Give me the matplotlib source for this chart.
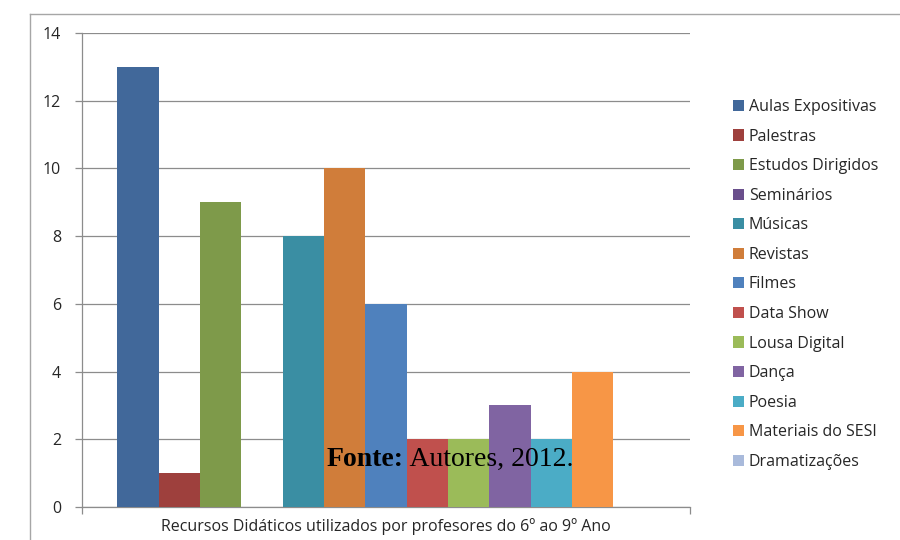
import matplotlib
matplotlib.use("Agg")
import matplotlib.pyplot as plt
from matplotlib.lines import Line2D
from matplotlib.patches import Patch

# Teaching resources used by teachers (6th to 9th grade)
categories = ["Aulas Expositivas", "Palestras", "Estudos Dirigidos", "Seminários",
              "Músicas", "Revistas", "Filmes", "Data Show", "Lousa Digital",
              "Dança", "Poesia", "Materiais do SESI", "Dramatizações"]
values = [13, 1, 9, 0, 8, 10, 6, 2, 2, 3, 2, 4, 0]
colors = ["#41689A", "#9E403D", "#7E9A4A", "#6A4F8C", "#3A8EA3", "#D07D3A",
          "#4F81BD", "#C0504D", "#9BBB59", "#8064A2", "#4BACC6", "#F79646",
          "#A9BADB"]
yticks = [0, 2, 4, 6, 8, 10, 12, 14]
xlabel = "Recursos Didáticos utilizados por profesores do 6º ao 9º Ano"
source_bold = "Fonte:"
source_rest = " Autores, 2012."

plt.rcParams["font.family"] = ["Open Sans", "DejaVu Sans"]
fs = 11.5
text_c = "#262626"

fig = plt.figure(figsize=(9, 5.4), dpi=100)
ax = fig.add_axes([82 / 900, 1 - 507 / 540, (690 - 82) / 900, (507 - 33) / 540])

grid_c = "#8c8c8c"
for i, (v, c) in enumerate(zip(values, colors)):
    ax.bar(i, v, width=1.0, color=c, edgecolor="none", zorder=3)

ax.set_xlim(-1.35, 13.35)
ax.set_ylim(0, 14)
ax.set_yticks(yticks)
ax.set_yticklabels([str(t) for t in yticks], fontsize=fs, color=text_c)
ax.yaxis.grid(True, color=grid_c, linewidth=0.9, zorder=0)
ax.set_xticks([-1.35, 13.35])
ax.set_xticklabels(["", ""])
ax.tick_params(axis="both", direction="out", length=5, color=grid_c, width=0.9)
ax.tick_params(axis="y", pad=10)
ax.tick_params(axis="x", pad=0)
for side in ["top", "right"]:
    ax.spines[side].set_visible(False)
for side in ["left", "bottom"]:
    ax.spines[side].set_color(grid_c)
    ax.spines[side].set_linewidth(0.9)

ax.set_xlabel(xlabel, fontsize=fs, color=text_c, labelpad=3)

# Legend
handles = [Patch(facecolor=c, edgecolor="none") for c in colors]
fig.legend(handles, categories, loc="upper left", bbox_to_anchor=(725 / 900, 1 - 91 / 540),
           frameon=False, fontsize=fs, handlelength=0.7, handleheight=0.7,
           handletextpad=0.3, labelspacing=0.85, borderpad=0, labelcolor=text_c)

# Source note
t1 = fig.text(327 / 900, 1 - 466 / 540, source_bold, family="Liberation Serif",
              fontsize=20, fontweight="bold", color="black", zorder=10)
fig.canvas.draw()
bb = t1.get_window_extent()
fig.text(bb.x1 / 900, 1 - 466 / 540, source_rest, family="Liberation Serif",
         fontsize=20, color="black", zorder=10)

# Outer chart frame
frame_c = "#a6a6a6"
fig.add_artist(Line2D([30 / 900, 1.0], [1 - 14 / 540, 1 - 14 / 540],
                      color=frame_c, linewidth=1.0, transform=fig.transFigure))
fig.add_artist(Line2D([30 / 900, 30 / 900], [0, 1 - 14 / 540],
                      color=frame_c, linewidth=1.0, transform=fig.transFigure))

fig.savefig("out.png", dpi=100)
